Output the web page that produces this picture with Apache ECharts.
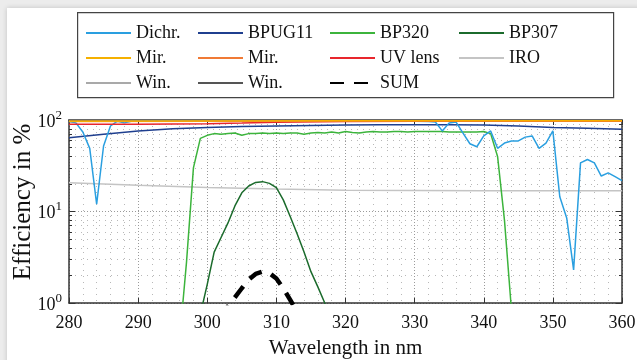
<!DOCTYPE html>
<html>
<head>
<meta charset="utf-8">
<script src="https://cdn.jsdelivr.net/npm/echarts@6/dist/echarts.min.js"></script>
<style>
  html, body { margin: 0; padding: 0; width: 637px; height: 360px; overflow: hidden; background: #ececec; }
  #panel { position: absolute; left: 7px; top: 8px; width: 640px; height: 360px; background: #ffffff; box-shadow: 0 0 5px rgba(0,0,0,0.18); }
  #chart { position: absolute; left: 0; top: 0; width: 637px; height: 360px; }
</style>
</head>
<body>
<div id="panel"></div>
<div id="chart"></div>
<script>
// Spectral efficiency of the optical components (wavelength in nm, efficiency in %)
const xTicks = [280, 290, 300, 310, 320, 330, 340, 350, 360];
const yMinor = [2, 3, 4, 5, 6, 7, 8, 9, 20, 30, 40, 50, 60, 70, 80, 90];

const dichrWl = [280, 281, 282, 283, 284, 285, 286, 287, 288, 289, 290, 295, 300, 305, 310, 315, 320, 325, 330, 332, 333, 334, 335, 336, 337, 338, 339, 340, 341, 342, 343, 344, 345, 346, 347, 348, 349, 350, 351, 352, 353, 354, 355, 356, 357, 358, 359, 360];
const dichrEff = [96, 93, 74, 49, 12, 52, 86, 97, 93, 97, 97, 98, 97, 98, 97, 98, 97, 98, 97, 96, 95, 76, 93, 95, 72, 55, 51, 67, 76, 49, 56, 59, 59, 65, 67, 49, 56, 76, 14.5, 8.5, 2.3, 34, 37, 34, 24.4, 26.4, 24, 21.7];

const bpug11Wl = [280, 285, 290, 295, 300, 305, 310, 315, 320, 325, 330, 335, 340, 345, 350, 355, 360];
const bpug11Eff = [64, 70, 76, 80, 83, 85, 86, 87, 88, 89, 89, 89, 88, 86, 83, 81, 79];

const bp320Wl = [295, 296, 297, 298, 299, 300, 301, 302, 303, 304, 305, 306, 307, 308, 309, 310, 311, 312, 313, 314, 315, 316, 317, 318, 319, 320, 321, 322, 323, 324, 325, 326, 327, 328, 329, 330, 331, 332, 333, 334, 335, 336, 337, 338, 339, 340, 341, 342, 343, 344, 345];
const bp320Eff = [0.1, 0.4, 2.8, 30, 63, 68, 71, 70, 71, 72, 68, 71, 71, 72, 71, 72, 71, 72, 72, 70, 72, 73, 72, 74, 72, 75, 73, 72, 74, 75, 74, 74, 75, 75, 74, 75, 75, 75, 75, 75, 74, 74, 74, 74, 74, 75, 71, 40, 8, 0.85, 0.1];

const bp307Wl = [298, 299, 300, 301, 302, 303, 304, 305, 306, 307, 308, 309, 310, 311, 312, 313, 314, 315, 316, 317, 318];
const bp307Eff = [0.3, 0.75, 1.6, 3.6, 5.2, 7.5, 11.5, 16, 19, 20.8, 21.2, 20.3, 18.2, 13.4, 8.8, 5.7, 3.6, 2.2, 1.5, 1.0, 0.7];

const mirAWl = [280, 300, 320, 340, 360];
const mirAEff = [97, 97.5, 98, 98, 98];
const mirBWl = [280, 300, 320, 340, 360];
const mirBEff = [96.5, 97, 97.5, 97.5, 97.5];

const uvLensWl = [280, 290, 300, 305, 310, 320, 330, 340, 350, 360];
const uvLensEff = [90, 90, 91, 92.5, 94.5, 96, 97, 97, 97, 97];

const iroWl = [280, 290, 300, 310, 320, 330, 340, 350, 360];
const iroEff = [20.6, 19.3, 18.3, 17.6, 17.1, 17.0, 16.9, 16.9, 16.9];

const winAWl = [280, 320, 360];
const winAEff = [99.3, 99.4, 99.4];
const winBWl = [280, 320, 360];
const winBEff = [99.7, 99.8, 99.8];

const sumWl = [302, 303, 304, 305, 306, 307, 308, 309, 310, 311, 312, 313];
const sumEff = [0.7, 0.92, 1.15, 1.45, 1.8, 2.08, 2.2, 2.12, 1.85, 1.45, 1.08, 0.8];

const legendCols = [
  ['Dichr.', 'Mir. a', 'Win. a'],
  ['BPUG11', 'Mir. b', 'Win. b'],
  ['BP320', 'UV lens', 'SUM'],
  ['BP307', 'IRO']
];
const shownName = { 'Mir. a': 'Mir.', 'Mir. b': 'Mir.', 'Win. a': 'Win.', 'Win. b': 'Win.' };
const yTitle = 'Efficiency in %';

const pairs = (xs, ys) => xs.map((x, i) => [x, ys[i]]);

function line(name, xs, ys, color, width, extra) {
  return Object.assign({
    name: name,
    type: 'line',
    data: pairs(xs, ys),
    showSymbol: false,
    symbol: 'none',
    smooth: false,
    clip: true,
    animation: false,
    lineStyle: { color: color, width: width },
    itemStyle: { color: color },
    z: 3
  }, extra || {});
}

const FONT = '"Liberation Serif", "DejaVu Serif", serif';
const frame = '#333333';

const chart = echarts.init(document.getElementById('chart'), null, { renderer: 'canvas' });

const legendLefts = [85, 197, 329, 458];
const legends = legendCols.map((col, i) => ({
  orient: 'vertical',
  left: legendLefts[i],
  top: 24,
  itemWidth: 45,
  itemHeight: 14,
  itemGap: 7,
  padding: 0,
  selectedMode: false,
  data: col,
  itemStyle: { opacity: 0 },
  formatter: n => shownName[n] || n,
  textStyle: { fontFamily: FONT, fontSize: 18, color: '#111' }
}));

const yCommon = {
  type: 'log',
  logBase: 10,
  min: 1,
  max: 100,
  gridIndex: 0
};

chart.setOption({
  backgroundColor: 'transparent',
  animation: false,
  textStyle: { fontFamily: FONT },
  graphic: [{
    type: 'rect',
    left: 77, top: 12,
    shape: { width: 536, height: 85 },
    style: { fill: '#ffffff', stroke: '#444444', lineWidth: 1.2 },
    z: -1
  }, {
    // vertical title of the efficiency axis
    type: 'text',
    x: 23, y: 202,
    rotation: Math.PI / 2,
    style: { text: yTitle, fontFamily: FONT, fontSize: 25, fill: '#111', align: 'center', verticalAlign: 'middle' },
    z: 10
  }],
  legend: legends,
  grid: { left: 69, right: 15, top: 120, bottom: 57, containLabel: false, outerBoundsMode: 'none' },
  xAxis: [{
    type: 'value',
    position: 'bottom',
    min: xTicks[0],
    max: xTicks[xTicks.length - 1],
    interval: 10,
    axisLine: { show: true, lineStyle: { color: frame, width: 1.5 } },
    axisTick: { show: true, inside: true, length: 5, lineStyle: { color: frame } },
    axisLabel: { margin: 11, fontFamily: FONT, fontSize: 18, color: '#111' },
    splitLine: { show: true, lineStyle: { color: '#9a9a9a', type: [1, 2], width: 1 } },
    minorTick: { show: false, splitNumber: 5 },
    minorSplitLine: { show: true, lineStyle: { color: '#b8b8b8', type: [1, 5], width: 1 } },
    name: 'Wavelength in nm',
    nameLocation: 'middle',
    nameGap: 35,
    nameTextStyle: { fontFamily: FONT, fontSize: 21, color: '#111' }
  }, {
    type: 'value',
    position: 'top',
    min: xTicks[0],
    max: xTicks[xTicks.length - 1],
    interval: 10,
    axisLine: { show: true, lineStyle: { color: frame, width: 1.5 } },
    axisTick: { show: true, inside: true, length: 5, lineStyle: { color: frame } },
    axisLabel: { show: false },
    splitLine: { show: false }
  }],
  yAxis: [Object.assign({}, yCommon, {
    position: 'left',
    axisLine: { show: true, lineStyle: { color: frame, width: 1.5 } },
    axisTick: { show: true, inside: true, length: 6, lineStyle: { color: frame } },
    axisLabel: {
      margin: 7,
      formatter: v => '{b|10}{s|' + Math.round(Math.log10(v)) + '}',
      rich: {
        b: { fontFamily: FONT, fontSize: 18, color: '#111', lineHeight: 22, verticalAlign: 'bottom' },
        s: { fontFamily: FONT, fontSize: 13, color: '#111', lineHeight: 13, verticalAlign: 'top' }
      }
    },
    splitLine: { show: true, lineStyle: { color: '#9a9a9a', type: [1, 2], width: 1 } }
  }), Object.assign({}, yCommon, {
    position: 'left',
    axisLine: { show: false },
    axisTick: { show: true, inside: true, length: 3, customValues: yMinor, lineStyle: { color: frame } },
    axisLabel: { show: false },
    splitLine: { show: true, lineStyle: { color: '#b8b8b8', type: [1, 5], width: 1 } }
  }), Object.assign({}, yCommon, {
    position: 'right',
    axisLine: { show: true, lineStyle: { color: frame, width: 1.5 } },
    axisTick: { show: true, inside: true, length: 6, lineStyle: { color: frame } },
    axisLabel: { show: false },
    splitLine: { show: false }
  }), Object.assign({}, yCommon, {
    position: 'right',
    axisLine: { show: false },
    axisTick: { show: true, inside: true, length: 3, customValues: yMinor, lineStyle: { color: frame } },
    axisLabel: { show: false },
    splitLine: { show: false }
  })],
  series: [
    line('IRO', iroWl, iroEff, '#c4c4c4', 1.5),
    line('Win. a', winAWl, winAEff, '#a9a9a9', 1.5),
    line('Win. b', winBWl, winBEff, '#555555', 1.5),
    line('BPUG11', bpug11Wl, bpug11Eff, '#1f3f8f', 1.5),
    line('BP320', bp320Wl, bp320Eff, '#3cb43c', 1.5),
    line('BP307', bp307Wl, bp307Eff, '#1b6b2c', 1.5),
    line('Dichr.', dichrWl, dichrEff, '#2a9fe0', 1.5),
    line('UV lens', uvLensWl, uvLensEff, '#e8262d', 1.5),
    line('Mir. b', mirBWl, mirBEff, '#f07a35', 1.5),
    line('Mir. a', mirAWl, mirAEff, '#f5b000', 1.5),
    line('SUM', sumWl, sumEff, '#000000', 4.5, { lineStyle: { color: '#000000', width: 4.5, type: [14, 10], dashOffset: 0 } })
  ]
});
</script>
</body>
</html>
